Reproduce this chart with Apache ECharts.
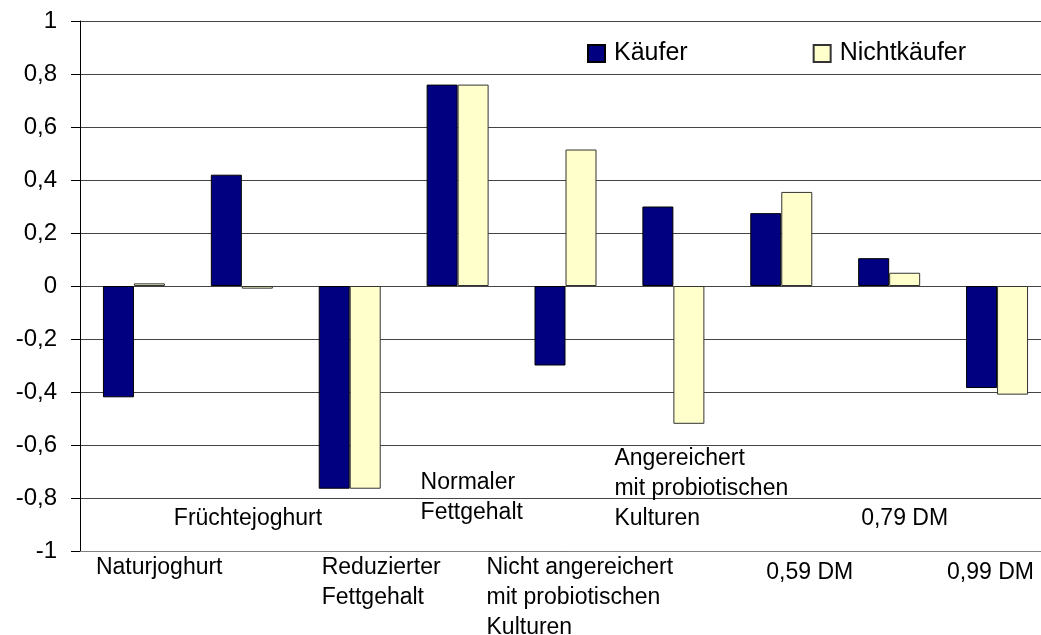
<!DOCTYPE html>
<html>
<head>
<meta charset="utf-8">
<script src="https://cdn.jsdelivr.net/npm/echarts@6/dist/echarts.min.js"></script>
<style>
  html, body { margin: 0; padding: 0; background: #fff; }
  #chart { width: 1041px; height: 635px; }
</style>
</head>
<body>
<div id="chart"></div>
<script>
const categories = [
  'Naturjoghurt',
  'Früchtejoghurt',
  'Reduzierter\nFettgehalt',
  'Normaler\nFettgehalt',
  'Nicht angereichert\nmit probiotischen\nKulturen',
  'Angereichert\nmit probiotischen\nKulturen',
  '0,59 DM',
  '0,79 DM',
  '0,99 DM',
]
const kaeufer = [-0.42, 0.42, -0.765, 0.76, -0.3, 0.3, 0.275, 0.105, -0.385]
const nichtkaeufer = [0.01, -0.01, -0.765, 0.76, 0.515, -0.52, 0.355, 0.05, -0.41]
const seriesNames = ['Käufer', 'Nichtkäufer']

// category labels are staggered: even ones under the axis, odd ones inside the plot
// [dx from category centre, dy] in px
const labelShift = [[-38, 0], [-68, 0], [-28, 0], [-37, -6], [-79, 0], [-59, 0], [-15, 5], [-28, 0], [-50, 5]]

const font = '"Liberation Sans", Arial, sans-serif'

const chart = echarts.init(document.getElementById('chart'))

chart.setOption({
  animation: false,
  grid: { left: 80, top: 21, width: 971, height: 530, outerBoundsMode: 'none' },
  legend: {
    data: seriesNames,
    left: 582,
    top: 36,
    icon: 'rect',
    itemWidth: 17,
    itemHeight: 17,
    itemGap: 125,
    textStyle: { fontSize: 25, fontFamily: font, color: '#000', padding: [0, 0, 0, 4] },
  },
  xAxis: {
    type: 'category',
    data: categories,
    axisLine: { onZero: false, lineStyle: { color: '#808080' } },
    axisTick: { show: false },
    axisLabel: { show: false },
  },
  yAxis: {
    type: 'value',
    min: -1,
    max: 1,
    interval: 0.2,
    axisLine: { show: true, lineStyle: { color: '#000' } },
    axisTick: { show: true, length: 9, lineStyle: { color: '#000' } },
    axisLabel: {
      margin: 23,
      fontSize: 24,
      fontFamily: font,
      color: '#000',
      formatter: (v) => String(Math.round(v * 10) / 10).replace('.', ','),
    },
    splitLine: { lineStyle: { color: '#444' } },
  },
  series: [
    {
      name: seriesNames[0],
      type: 'bar',
      data: kaeufer,
      barWidth: 31,
      barGap: '0%',
      itemStyle: { color: '#000080', borderColor: '#000', borderWidth: 1 },
    },
    {
      name: seriesNames[1],
      type: 'bar',
      data: nichtkaeufer,
      barWidth: 31,
      barGap: '0%',
      itemStyle: { color: '#ffffcc', borderColor: '#333', borderWidth: 1 },
    },
  ],
})

function placeLabels() {
  const base = chart.convertToPixel({ yAxisIndex: 0 }, -1)

  chart.setOption({
    graphic: categories.map((name, i) => {
      const [dx, dy] = labelShift[i]
      const below = i % 2 === 0
      return {
        type: 'text',
        silent: true,
        x: chart.convertToPixel({ xAxisIndex: 0 }, i) + dx,
        y: (below ? base + 2 : base - 17) + dy,
        style: {
          text: name,
          fontSize: 23,
          fontFamily: font,
          lineHeight: 30,
          fill: '#000',
          align: 'left',
          verticalAlign: below ? 'top' : 'bottom',
        },
      }
    }),
  })
}

placeLabels()
</script>
</body>
</html>
